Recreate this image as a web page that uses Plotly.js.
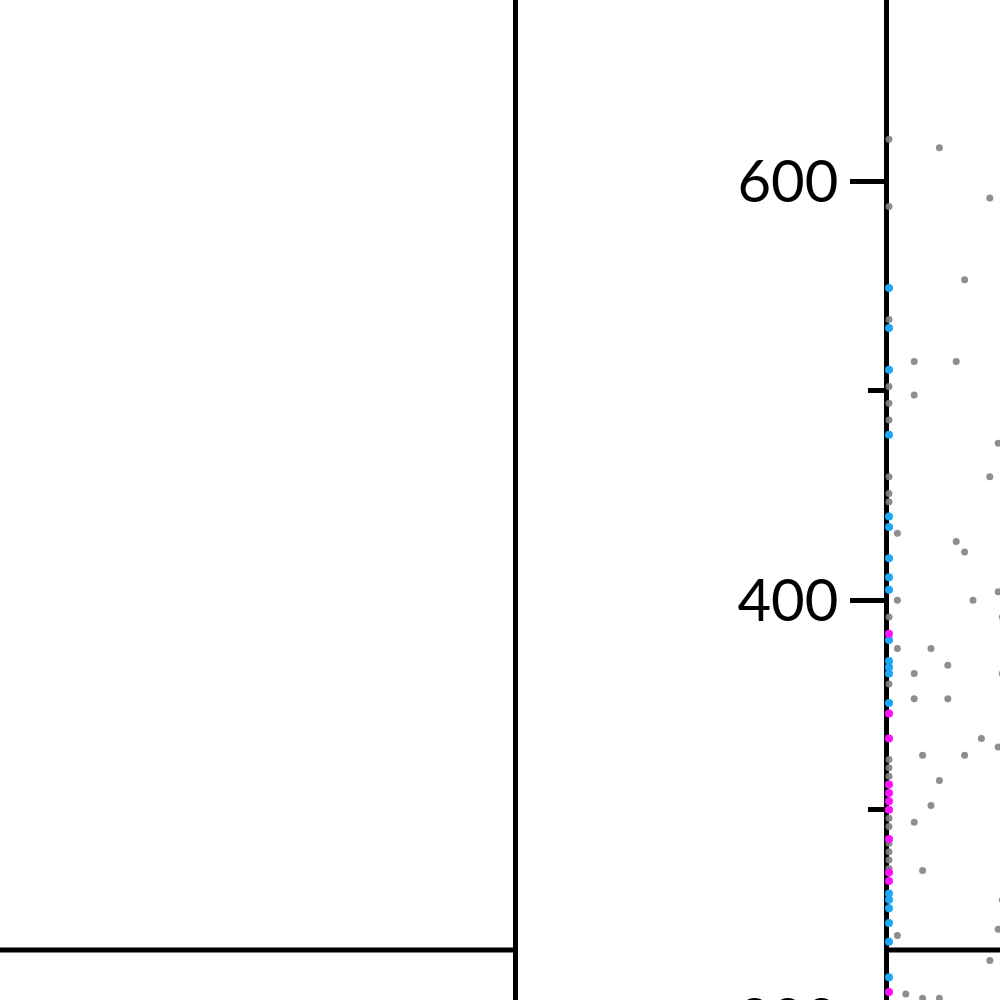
<!DOCTYPE html>
<html><head><meta charset="utf-8">
<script src="https://cdn.plot.ly/plotly-3.0.1.min.js"></script>
<style>html,body{margin:0;padding:0;width:1000px;height:1000px;overflow:hidden;background:#fff}
#chart{position:absolute;left:-300px;top:-300px;width:1500px;height:1800px}</style>
</head><body><div id="chart"></div><script>
// Grey points (x, y)
const greyX = [0,6,0,12,9,0,3,8,0,3,0,0,13,12,0,0,0,1,8,9,13,1,10,0,13.5,1,5,7,3,13.5,0,3,7,11,13,4,9,6,5,3,4,13.5,1,13,12,2,4,6,0,0,0,0,0,0,0,0,0,0];
const greyY = [620,616,588,592,553,534,514,514,502,498,494,486,475,459,459,451,447,432,428,423,404,400,400,392,392,377,377,369,365,365,360,353,353,334,330,326,326,314,302,294,271,257,240,243,228,212,210,210,324,320,316,300,296,292,284,280,276,272];
// Blue points
const blueX = [0,0,0,0,0,0,0,0,0,0,0,0,0,0,0,0,0,0,0,0];
const blueY = [549,530,510,479,440,435,420,411,405,381,371,368,365,351,260,257,253,246,237,220];
// Magenta points
const magX = [0,0,0,0,0,0,0,0,0,0,0];
const magY = [384,346,334,312,308,304,300,286,270,266,213];
// Reference line level and axis range
const refY = 233;
const yRange = [150, 750];
const xRange2 = [0, 25.12];

const traces = [
  {x: [], y: [], type: 'scatter', mode: 'markers', xaxis: 'x', yaxis: 'y', showlegend: false},
  {x: greyX, y: greyY, type: 'scatter', mode: 'markers', xaxis: 'x2', yaxis: 'y2', cliponaxis: false,
   marker: {size: 7, color: 'rgba(130,130,130,0.9)'}, showlegend: false},
  {x: blueX, y: blueY, type: 'scatter', mode: 'markers', xaxis: 'x2', yaxis: 'y2', cliponaxis: false,
   marker: {size: 8, color: '#1ca8f4'}, showlegend: false},
  {x: magX, y: magY, type: 'scatter', mode: 'markers', xaxis: 'x2', yaxis: 'y2', cliponaxis: false,
   marker: {size: 8, color: '#ff10ff'}, showlegend: false}
];

const layout = {
  width: 1500, height: 1800,
  margin: {l: 100, r: 100, t: 167, b: 376, pad: 0},
  paper_bgcolor: '#fff', plot_bgcolor: '#fff',
  showlegend: false, hovermode: false,
  font: {family: 'Lato, sans-serif', size: 58, color: '#000'},
  xaxis: {domain: [0, 0.548846], range: [0, 1], showgrid: false, zeroline: false, showticklabels: false, showline: false, ticks: ''},
  yaxis: {range: yRange, showline: true, mirror: true, linewidth: 5, linecolor: '#000', showgrid: false, zeroline: false, showticklabels: false, ticks: ''},
  xaxis2: {domain: [0.837692, 1], range: xRange2, anchor: 'y2', showgrid: false, zeroline: false, showticklabels: false, showline: false, ticks: ''},
  yaxis2: {range: yRange, anchor: 'x2', showline: true, linewidth: 5, linecolor: '#000', showgrid: false, zeroline: false,
    ticks: 'outside', ticklen: 34, tickwidth: 5, tickcolor: '#000', tick0: 0, dtick: 200, layer: 'below traces',
    tickfont: {family: 'Lato, sans-serif', size: 58, color: '#000'},
    minor: {ticks: 'outside', ticklen: 16, tickwidth: 5, tickcolor: '#000', tick0: 0, dtick: 100, showgrid: false}},
  shapes: [
    {type: 'line', xref: 'x domain', yref: 'y', x0: 0, x1: 1, y0: refY, y1: refY, line: {width: 5, color: '#000'}},
    {type: 'line', xref: 'x2 domain', yref: 'y2', x0: 0, x1: 1, y0: refY, y1: refY, line: {width: 5, color: '#000'}}
  ]
};
Plotly.newPlot('chart', traces, layout, {staticPlot: true, displayModeBar: false});
</script></body></html>
